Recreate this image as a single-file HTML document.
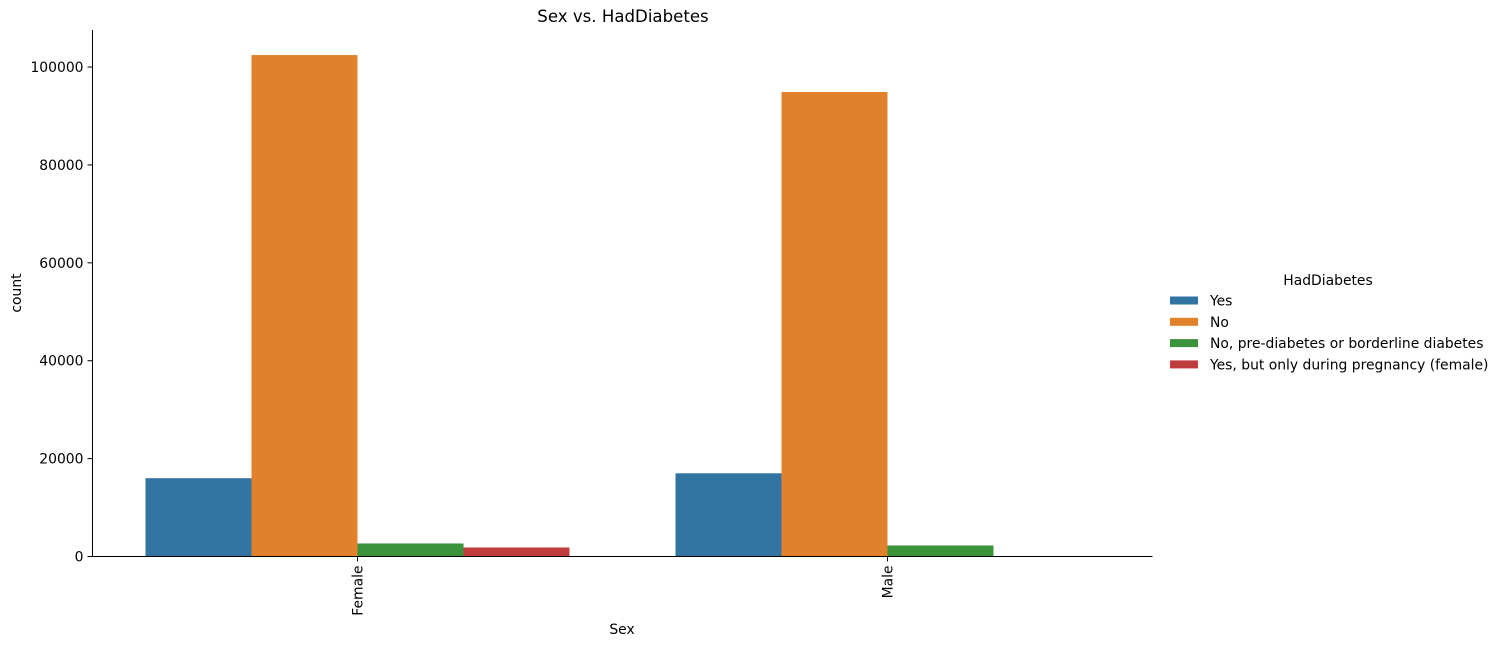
<!DOCTYPE html>
<html><head><meta charset="utf-8"><style>
body{margin:0;background:#fff;}
svg text{font-family:"DejaVu Sans","Liberation Sans",sans-serif;fill:#000;}
</style></head><body>
<svg id="chart" width="1499" height="646" xmlns="http://www.w3.org/2000/svg">
<text x="623" y="22" font-size="16.6" text-anchor="middle">Sex vs. HadDiabetes</text>
<g id="bars"></g>
<g id="axes"></g>
<text transform="translate(21,293) rotate(-90)" font-size="13.9" text-anchor="middle">count</text>
<text x="622" y="634" font-size="13.9" text-anchor="middle">Sex</text>
<g id="legend">
<text x="1328" y="285" font-size="13.9" text-anchor="middle">HadDiabetes</text>
</g>
</svg>
<script>
const categories = ["Female","Male"];
const hues = ["Yes","No","No, pre-diabetes or borderline diabetes","Yes, but only during pregnancy (female)"];
const seriesYes = [16000, 17000];
const seriesNo = [102450, 94900];
const seriesPre = [2660, 2250];
const seriesPreg = [1840, 0];
const yTicks = [0,20000,40000,60000,80000,100000];
const colors = ["#3274a1","#e1812c","#3a923a","#c03d3e"];
const series = [seriesYes, seriesNo, seriesPre, seriesPreg];
const NS = "http://www.w3.org/2000/svg";
const L=92.5,R=1152.5,T=30,B=556.5;
const yMax = 107570;
const y = v => B - v/yMax*(B-T);
const x = v => L + (v+0.5)/2*(R-L);
function mk(tag, attrs, parent){const e=document.createElementNS(NS,tag);for(const k in attrs)e.setAttribute(k,attrs[k]);parent.appendChild(e);return e;}
const bars=document.getElementById('bars'), axes=document.getElementById('axes'), legend=document.getElementById('legend');
series.forEach((s,h)=>{s.forEach((v,i)=>{
  const x0=x(i-0.4+0.2*h), x1=x(i-0.4+0.2*(h+1));
  const r=mk('rect',{x:x0,y:y(v),width:x1-x0,height:B-y(v),fill:colors[h]},bars);
  
  
});});
const ya=mk('line',{x1:L,y1:T,x2:L,y2:B,stroke:'#000','stroke-width':1},axes);


const xa=mk('line',{x1:L,y1:B,x2:R,y2:B,stroke:'#000','stroke-width':1},axes);


yTicks.forEach(t=>{
  mk('line',{x1:L-5,y1:y(t),x2:L,y2:y(t),stroke:'#000'},axes);
  const tx=mk('text',{x:L-9,y:y(t)+5,'font-size':13.9,'text-anchor':'end'},axes);
  tx.textContent=t;
  
  
});
categories.forEach((c,i)=>{
  mk('line',{x1:x(i),y1:B,x2:x(i),y2:B+5,stroke:'#000'},axes);
  const tx=mk('text',{transform:`translate(${x(i)+5},${B+9}) rotate(-90)`,'font-size':13.9,'text-anchor':'end'},axes);
  tx.textContent=c;
  
  
});
hues.forEach((h,k)=>{
  const yy=300.5+k*21.3;
  const r=mk('rect',{x:1170,y:yy-4,width:28,height:8,fill:colors[k]},legend);
  
  
  const tx=mk('text',{x:1210,y:yy+5,'font-size':13.9},legend);
  tx.textContent=h;
  
  
});
</script>
</body></html>
